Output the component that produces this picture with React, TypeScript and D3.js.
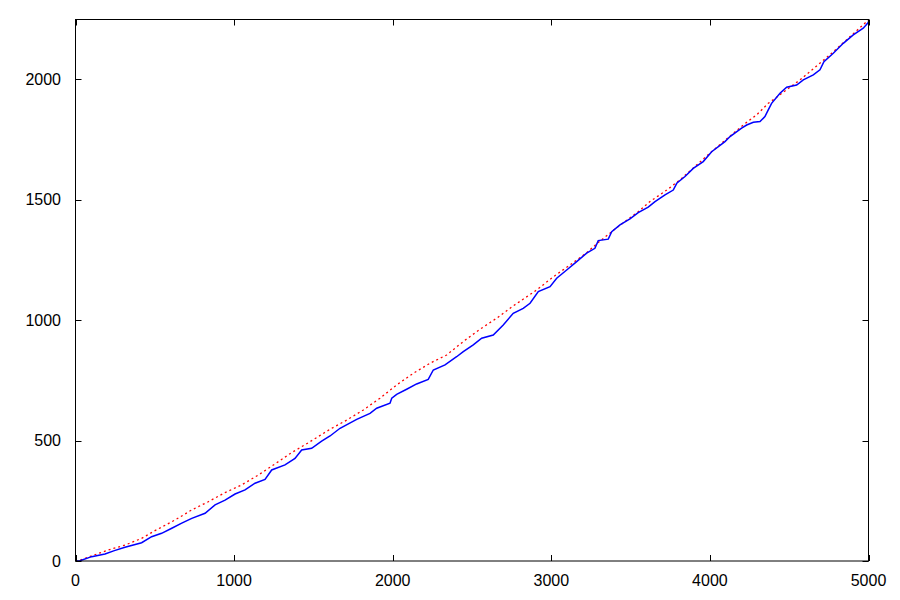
import React from "react";
import * as d3 from "d3";

const xTicks = [0, 1000, 2000, 3000, 4000, 5000];
const yTicks = [0, 500, 1000, 1500, 2000];

const blueX = [0, 28, 102, 186, 245, 312, 417, 480, 543, 607, 670, 733, 817, 880, 943, 1006, 1069, 1132, 1195, 1237, 1321, 1384, 1426, 1489, 1552, 1605, 1668, 1773, 1857, 1899, 1983, 1994, 2025, 2088, 2151, 2224, 2256, 2330, 2403, 2445, 2508, 2561, 2634, 2697, 2760, 2823, 2866, 2918, 2992, 3034, 3097, 3160, 3223, 3275, 3296, 3359, 3381, 3433, 3496, 3548, 3611, 3654, 3717, 3769, 3791, 3843, 3895, 3958, 4011, 4095, 4127, 4200, 4232, 4274, 4316, 4347, 4368, 4389, 4442, 4484, 4547, 4589, 4652, 4694, 4719, 4778, 4841, 4904, 4967, 4998, 5000];
const blueY = [0, 1, 18, 29, 43, 57, 76, 101, 115, 136, 157, 177, 198, 233, 253, 278, 295, 323, 339, 378, 399, 426, 461, 468, 498, 519, 551, 588, 613, 634, 655, 676, 692, 713, 735, 754, 793, 814, 848, 869, 897, 925, 938, 980, 1028, 1049, 1070, 1118, 1139, 1174, 1208, 1243, 1278, 1298, 1330, 1336, 1367, 1395, 1420, 1446, 1469, 1492, 1520, 1540, 1568, 1596, 1630, 1658, 1699, 1741, 1762, 1797, 1810, 1821, 1824, 1845, 1873, 1900, 1942, 1967, 1976, 1997, 2018, 2039, 2073, 2108, 2149, 2184, 2212, 2235, 2240];

const redX = [0, 18, 207, 312, 417, 501, 627, 733, 837, 943, 1048, 1153, 1258, 1363, 1468, 1605, 1710, 1815, 1920, 2025, 2130, 2235, 2340, 2445, 2550, 2656, 2760, 2908, 3013, 3118, 3223, 3296, 3413, 3548, 3622, 3728, 3811, 4000, 4210, 4295, 4368, 4568, 4768, 5000];
const redY = [0, 1, 46, 66, 94, 126, 170, 212, 246, 284, 316, 357, 403, 450, 491, 547, 585, 627, 676, 731, 779, 821, 855, 911, 962, 1008, 1059, 1125, 1180, 1229, 1280, 1322, 1384, 1450, 1492, 1540, 1582, 1693, 1810, 1852, 1900, 1997, 2108, 2246];

export default function App() {
  const left = 75.5, right = 868.5, top = 19.5, bottom = 561;
  const x = d3.scaleLinear().domain([0, 5000]).range([left, right]);
  const y = d3.scaleLinear().domain([0, 2250]).range([bottom, top - 0.5]);
  const mk = (xs: number[], ys: number[]) =>
    d3.line<number>().x((d) => x(d)).y((_, i) => y(ys[i])).curve(d3.curveLinear)(xs) || "";
  const font = "'Liberation Sans', Arial, sans-serif";
  return (
    <svg width={900} height={600} style={{ position: "absolute", left: 0, top: 0, background: "#fff" }}>
      <rect x={0} y={0} width={900} height={600} fill="#fff" />
      <defs>
        <clipPath id="clip">
          <rect x={left} y={top} width={right - left} height={bottom - top} />
        </clipPath>
      </defs>
      <g clipPath="url(#clip)">
        <path d={mk(redX, redY)} fill="none" stroke="#ff0000" strokeWidth={1.3} strokeDasharray="2,3" />
        <path d={mk(blueX, blueY)} fill="none" stroke="#0000ff" strokeWidth={1.5} />
      </g>
      <rect x={left} y={top} width={right - left} height={bottom - top} fill="none" stroke="#000" strokeWidth={1} />
      {xTicks.map((t) => (
        <g key={"x" + t}>
          <line x1={Math.round(x(t)) + 0.5} x2={Math.round(x(t)) + 0.5} y1={bottom} y2={bottom - 6} stroke="#000" />
          <line x1={Math.round(x(t)) + 0.5} x2={Math.round(x(t)) + 0.5} y1={top} y2={top + 6} stroke="#000" />
          <text x={x(t)} y={586} textAnchor="middle" fontFamily={font} fontSize={16} fill="#000">{t}</text>
        </g>
      ))}
      {yTicks.map((t) => (
        <g key={"y" + t}>
          <line x1={left} x2={left + 6} y1={Math.round(y(t)) + 0.5} y2={Math.round(y(t)) + 0.5} stroke="#000" />
          <line x1={right} x2={right - 6} y1={Math.round(y(t)) + 0.5} y2={Math.round(y(t)) + 0.5} stroke="#000" />
          <text x={61} y={y(t)} dy="0.36em" textAnchor="end" fontFamily={font} fontSize={16} fill="#000">{t}</text>
        </g>
      ))}
    </svg>
  );
}
